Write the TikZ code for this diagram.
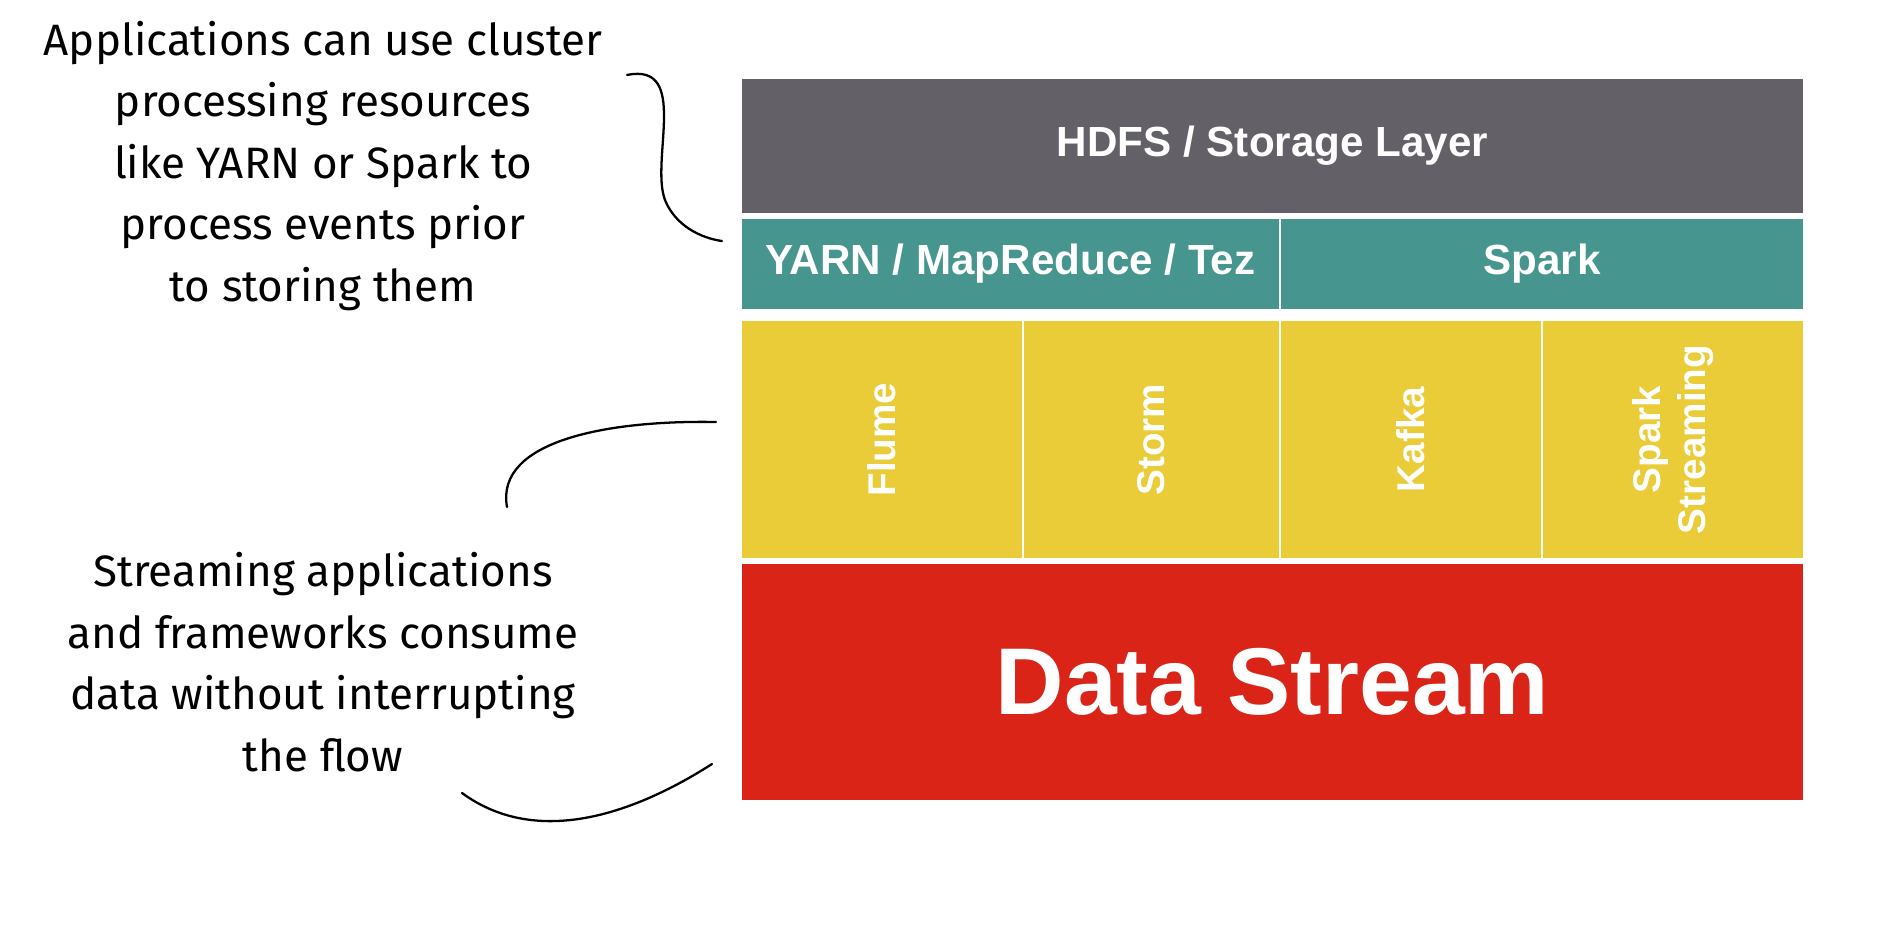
\documentclass[tikz,border=0pt]{standalone}
\usepackage{fontspec}
\setsansfont{Liberation Sans}
\newfontfamily\handfont{Fira Sans}
\definecolor{hdfsgray}{RGB}{100,96,104}
\definecolor{yarnteal}{RGB}{70,149,143}
\definecolor{streamyellow}{RGB}{233,204,56}
\definecolor{datared}{RGB}{218,36,24}
\tikzset{
  layer/.style={draw=white, line width=1.5pt, inner sep=0pt, text=white,
    font=\sffamily\bfseries, align=center},
  note/.style={font=\handfont\fontsize{25}{35}\selectfont, align=center},
  pointer/.style={line width=1.3pt, line cap=round}
}
\begin{document}
\begin{tikzpicture}[x=0.02cm, y=-0.02cm]
  % ---- page size ----
  \useasboundingbox (0,0) rectangle (1882,934);

  % ---- layers ----
  \node[layer, fill=hdfsgray, minimum width=1063*0.02cm, minimum height=136*0.02cm,
    font=\sffamily\bfseries\fontsize{24}{28}\selectfont] (hdfs) at (1272.5,146) {HDFS / Storage Layer};
  \node[layer, fill=yarnteal, minimum width=539*0.02cm, minimum height=92*0.02cm,
    font=\sffamily\bfseries\fontsize{24}{28}\selectfont] (yarn) at (1010.5,264) {YARN / MapReduce / Tez};
  \node[layer, fill=yarnteal, minimum width=524*0.02cm, minimum height=92*0.02cm,
    font=\sffamily\bfseries\fontsize{24}{28}\selectfont] (spark) at (1542,264) {Spark};

  % ---- streaming frameworks ----
  \foreach \name/\x/\w/\txt in {flume/882/282/Flume, storm/1151.5/257/Storm,
      kafka/1411/262/Kafka, sstream/1673/262/{Spark\\Streaming}} {
    \node[layer, fill=streamyellow, minimum width=\w*0.02cm, minimum height=239*0.02cm] (\name) at (\x,439.5) {};
    \node[rotate=90, text=white, font=\sffamily\bfseries\fontsize{22}{26}\selectfont, align=center]
      (\name-label) at (\name) {\txt};
  }

  \node[layer, fill=datared, minimum width=1063*0.02cm, minimum height=238*0.02cm,
    font=\sffamily\bfseries\fontsize{54}{60}\selectfont] (data) at (1272.5,682) {Data Stream};

  % ---- notes ----
  \node[note] (cluster) at (323,166) {Applications can use cluster\\processing resources\\like YARN or Spark to\\process events prior\\to storing them};
  \node[note] (consume) at (323,662) {Streaming applications\\and frameworks consume\\data without interrupting\\the flow};

  % ---- pointers ----
  \coordinate (c1) at (627,75);
  \coordinate (c2) at (722,241);
  \coordinate (c3) at (507,507);
  \coordinate (c4) at (716,422);
  \coordinate (c5) at (462,793);
  \coordinate (c6) at (712,764);
  \draw[pointer] (c1) .. controls (690,62) and (650,160) .. (665,200) .. controls (675,225) and (700,238) .. (c2);
  \draw[pointer] (c3) .. controls (495,440) and (610,420) .. (c4);
  \draw[pointer] (c5) .. controls (540,850) and (640,810) .. (c6);
\end{tikzpicture}
\end{document}
